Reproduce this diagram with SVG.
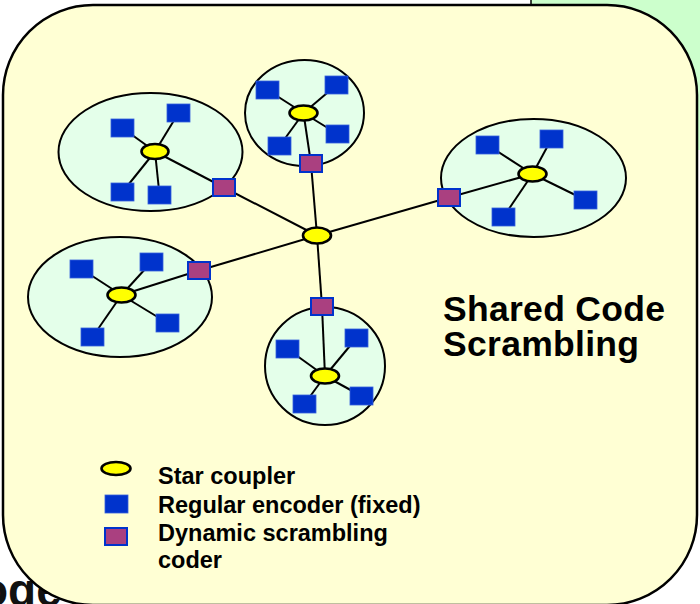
<svg xmlns="http://www.w3.org/2000/svg" width="700" height="604" viewBox="0 0 700 604">
<style>
.cl{fill:#E4FFEA;stroke:#000;stroke-width:2}
.sc{fill:#FFFF00;stroke:#000;stroke-width:2.6}
.enc{fill:#0033CC;stroke:#3560DD;stroke-width:0.8}
.dyn{fill:#AA4080;stroke:#0033CC;stroke-width:2}
.ln{stroke:#000;stroke-width:2;fill:none}
.lg{font-family:"Liberation Sans",Arial,sans-serif;font-weight:bold;font-size:23.5px;fill:#000}
.tt{font-family:"Liberation Sans",Arial,sans-serif;font-weight:bold;font-size:35.5px;letter-spacing:0.3px;fill:#000}
</style>
<rect width="700" height="604" fill="#FFFFFF"/>
<rect id="bg-panel" x="531" y="-10" width="200" height="160" fill="#CCFFCC"/>
<line x1="531" y1="-5" x2="531" y2="8" stroke="#000" stroke-width="1.5"/>
<text x="-20" y="606" font-family="Liberation Sans, Arial, sans-serif" font-weight="bold" font-size="46" fill="#111">oge</text>
<rect id="panel" x="3" y="5" width="694" height="600" rx="90" ry="90" fill="#FFFFD4" stroke="#000" stroke-width="2.5"/>

<g id="cluster-a"><ellipse class="cl" cx="150.5" cy="152" rx="92" ry="59"/></g>
<g id="cluster-b"><ellipse class="cl" cx="304.5" cy="113" rx="59.5" ry="53"/></g>
<g id="cluster-c"><ellipse class="cl" cx="533.5" cy="178" rx="92.5" ry="59"/></g>
<g id="cluster-d"><ellipse class="cl" cx="120" cy="297" rx="92" ry="60"/></g>
<g id="cluster-e"><ellipse class="cl" cx="325" cy="366" rx="60" ry="59"/></g>

<g id="connectors" class="ln">
<line x1="155" y1="151.5" x2="122.5" y2="128"/>
<line x1="155" y1="151.5" x2="178.5" y2="113"/>
<line x1="155" y1="151.5" x2="122.5" y2="192"/>
<line x1="155" y1="151.5" x2="159.5" y2="195"/>
<line x1="155" y1="151.5" x2="224" y2="187.5"/>
<line x1="303.5" y1="113" x2="267.5" y2="90"/>
<line x1="303.5" y1="113" x2="336.5" y2="85"/>
<line x1="303.5" y1="113" x2="337.5" y2="134"/>
<line x1="303.5" y1="113" x2="279.5" y2="146"/>
<line x1="303.5" y1="113" x2="311" y2="163.5"/>
<line x1="532.5" y1="174" x2="487.5" y2="145"/>
<line x1="532.5" y1="174" x2="551.5" y2="139"/>
<line x1="532.5" y1="174" x2="585.5" y2="200"/>
<line x1="532.5" y1="174" x2="503.5" y2="217"/>
<line x1="532.5" y1="174" x2="449" y2="197.5"/>
<line x1="121.5" y1="295" x2="81.5" y2="269"/>
<line x1="121.5" y1="295" x2="151.5" y2="262"/>
<line x1="121.5" y1="295" x2="167.5" y2="323"/>
<line x1="121.5" y1="295" x2="92.5" y2="337"/>
<line x1="121.5" y1="295" x2="199" y2="270.5"/>
<line x1="325" y1="376" x2="287.5" y2="349"/>
<line x1="325" y1="376" x2="356.5" y2="338"/>
<line x1="325" y1="376" x2="361.5" y2="396"/>
<line x1="325" y1="376" x2="304.5" y2="404"/>
<line x1="325" y1="376" x2="322" y2="306.5"/>
<line x1="317" y1="235.5" x2="224" y2="187.5"/>
<line x1="317" y1="235.5" x2="311" y2="163.5"/>
<line x1="317" y1="235.5" x2="449" y2="197.5"/>
<line x1="317" y1="235.5" x2="199" y2="270.5"/>
<line x1="317" y1="235.5" x2="322" y2="306.5"/>
</g>

<g id="enc-a1"><rect class="enc" x="111" y="119" width="23" height="18"/></g>
<g id="enc-a2"><rect class="enc" x="167" y="104" width="23" height="18"/></g>
<g id="enc-a3"><rect class="enc" x="111" y="183" width="23" height="18"/></g>
<g id="enc-a4"><rect class="enc" x="148" y="186" width="23" height="18"/></g>
<g id="dyn-a"><rect class="dyn" x="213" y="179" width="22" height="17"/></g>
<g id="star-a"><ellipse class="sc" cx="155" cy="151.5" rx="13.5" ry="7.5"/></g>

<g id="enc-b1"><rect class="enc" x="256" y="81" width="23" height="18"/></g>
<g id="enc-b2"><rect class="enc" x="325" y="76" width="23" height="18"/></g>
<g id="enc-b3"><rect class="enc" x="326" y="125" width="23" height="18"/></g>
<g id="enc-b4"><rect class="enc" x="268" y="137" width="23" height="18"/></g>
<g id="dyn-b"><rect class="dyn" x="300" y="155" width="22" height="17"/></g>
<g id="star-b"><ellipse class="sc" cx="303.5" cy="113" rx="14" ry="7.5"/></g>

<g id="enc-c1"><rect class="enc" x="476" y="136" width="23" height="18"/></g>
<g id="enc-c2"><rect class="enc" x="540" y="130" width="23" height="18"/></g>
<g id="enc-c3"><rect class="enc" x="574" y="191" width="23" height="18"/></g>
<g id="enc-c4"><rect class="enc" x="492" y="208" width="23" height="18"/></g>
<g id="dyn-c"><rect class="dyn" x="438" y="189" width="22" height="17"/></g>
<g id="star-c"><ellipse class="sc" cx="532.5" cy="174" rx="14" ry="7.5"/></g>

<g id="enc-d1"><rect class="enc" x="70" y="260" width="23" height="18"/></g>
<g id="enc-d2"><rect class="enc" x="140" y="253" width="23" height="18"/></g>
<g id="enc-d3"><rect class="enc" x="156" y="314" width="23" height="18"/></g>
<g id="enc-d4"><rect class="enc" x="81" y="328" width="23" height="18"/></g>
<g id="dyn-d"><rect class="dyn" x="188" y="262" width="22" height="17"/></g>
<g id="star-d"><ellipse class="sc" cx="121.5" cy="295" rx="14" ry="7.5"/></g>

<g id="enc-e1"><rect class="enc" x="276" y="340" width="23" height="18"/></g>
<g id="enc-e2"><rect class="enc" x="345" y="329" width="23" height="18"/></g>
<g id="enc-e3"><rect class="enc" x="350" y="387" width="23" height="18"/></g>
<g id="enc-e4"><rect class="enc" x="293" y="395" width="23" height="18"/></g>
<g id="dyn-e"><rect class="dyn" x="311" y="298" width="22" height="17"/></g>
<g id="star-e"><ellipse class="sc" cx="325" cy="376" rx="14" ry="7.5"/></g>

<g id="star-center"><ellipse class="sc" cx="317" cy="235.5" rx="14" ry="8"/></g>

<g id="title"><text class="tt" x="443" y="321">Shared Code</text><text class="tt" x="443" y="356">Scrambling</text></g>

<g id="legend">
<ellipse class="sc" cx="116" cy="468.5" rx="14.5" ry="6.5"/>
<rect class="enc" x="105" y="495" width="23" height="18"/>
<rect class="dyn" x="105" y="528" width="22" height="17"/>
<text class="lg" x="158" y="484">Star coupler</text>
<text class="lg" x="158" y="513">Regular encoder (fixed)</text>
<text class="lg" x="158" y="541">Dynamic scrambling</text>
<text class="lg" x="158" y="568">coder</text>
</g>
</svg>
